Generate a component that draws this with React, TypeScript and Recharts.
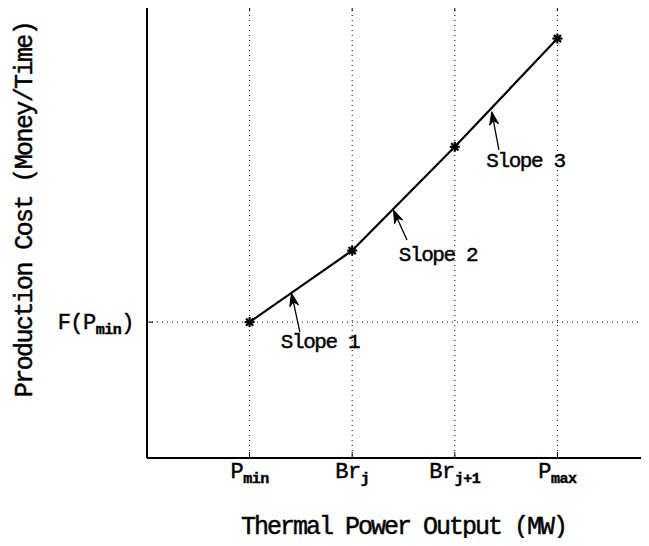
import React from "react";
import {
  LineChart,
  Line,
  XAxis,
  YAxis,
  CartesianGrid,
  ReferenceLine,
  ReferenceDot,
} from "recharts";

// break points on the output axis
const outputLevels = [1, 2, 3, 4];
const outputTickMain = ["P", "Br", "Br", "P"];
const outputTickSub = ["min", "j", "j+1", "max"];

// production cost at each break point
const costValues = [3, 4.58, 6.87, 9.26];

const costTicks = [3];

// "Slope n" annotations: arrow tail -> tip, text anchor
const slopeLabels = ["Slope 1", "Slope 2", "Slope 3"];
const arrowTailX = [1.49, 2.534, 3.43];
const arrowTailY = [2.78, 4.81, 6.8];
const arrowTipX = [1.408, 2.402, 3.36];
const arrowTipY = [3.64, 5.475, 7.645];
const labelX = [1.686, 2.836, 3.689];
const labelY = [2.54, 4.46, 6.556];

const data = outputLevels.map((x, i) => ({ x, cost: costValues[i] }));

const FONT = "'Liberation Mono', 'DejaVu Sans Mono', monospace";
const INK = { fill: "#000", stroke: "#000", strokeWidth: 0.45 };

function StarDot(props: any) {
  const { cx, cy } = props;
  if (cx == null || cy == null) return null;
  const r = 5;
  const d = 3.6;
  return (
    <g stroke="#000" strokeWidth={2.2}>
      <line x1={cx - r} y1={cy} x2={cx + r} y2={cy} />
      <line x1={cx} y1={cy - r} x2={cx} y2={cy + r} />
      <line x1={cx - d} y1={cy - d} x2={cx + d} y2={cy + d} />
      <line x1={cx - d} y1={cy + d} x2={cx + d} y2={cy - d} />
    </g>
  );
}

function OutputTick(props: any) {
  const { x, y, payload } = props;
  const i = outputLevels.indexOf(payload.value);
  if (i < 0) return null;
  return (
    <text x={x} y={y} textAnchor="middle" fontFamily={FONT} fontSize={22} letterSpacing={-0.5} {...INK}>
      <tspan>{outputTickMain[i]}</tspan>
      <tspan fontSize={15} fontWeight="bold" dy={5}>
        {outputTickSub[i]}
      </tspan>
    </text>
  );
}

function CostTick(props: any) {
  const { x, y } = props;
  return (
    <text x={x} y={y + 7} textAnchor="end" fontFamily={FONT} fontSize={22} letterSpacing={-0.5} {...INK}>
      <tspan>F(P</tspan>
      <tspan fontSize={15} fontWeight="bold" dy={5}>
        min
      </tspan>
      <tspan dy={-5}>)</tspan>
    </text>
  );
}

function EmptyTick() {
  return <g />;
}

function ArrowShape(props: any) {
  const { x1, y1, x2, y2 } = props;
  if (x1 == null) return null;
  const ang = Math.atan2(y2 - y1, x2 - x1);
  const len = 13;
  const half = 4.5;
  const bx = x2 - len * Math.cos(ang);
  const by = y2 - len * Math.sin(ang);
  const nx = x2 - (len - 4) * Math.cos(ang);
  const ny = y2 - (len - 4) * Math.sin(ang);
  const px = -Math.sin(ang) * half;
  const py = Math.cos(ang) * half;
  return (
    <g>
      <line x1={x1} y1={y1} x2={nx} y2={ny} stroke="#000" strokeWidth={1.3} />
      <polygon
        points={`${x2},${y2} ${bx + px},${by + py} ${nx},${ny} ${bx - px},${by - py}`}
        fill="#000"
        stroke="#000"
        strokeWidth={1}
      />
    </g>
  );
}

function SlopeText(text: string) {
  return function SlopeLabel(props: any) {
    const { cx, cy } = props;
    if (cx == null) return null;
    return (
      <text
        x={cx}
        y={cy}
        textAnchor="middle"
        dominantBaseline="central"
        fontFamily={FONT}
        fontSize={21}
        letterSpacing={-1.4}
        {...INK}
      >
        {text}
      </text>
    );
  };
}

function YTitle(props: any) {
  const vb = props.viewBox || {};
  const cx = 25;
  const cy = vb.y + vb.height / 2 - 22;
  return (
    <text
      x={cx}
      y={cy}
      transform={`rotate(-90 ${cx} ${cy})`}
      textAnchor="middle"
      dominantBaseline="central"
      fontFamily={FONT}
      fontSize={25}
      letterSpacing={-1.6}
      {...INK}
    >
      Production Cost (Money/Time)
    </text>
  );
}

function XTitle(props: any) {
  const vb = props.viewBox || {};
  const cx = vb.x + vb.width / 2;
  return (
    <text
      x={cx}
      y={vb.y + 76}
      textAnchor="middle"
      fontFamily={FONT}
      fontSize={25}
      letterSpacing={-2}
      {...INK}
    >
      Thermal Power Output (MW)
    </text>
  );
}

export default function App() {
  return (
    <div style={{ margin: -8, width: 649, height: 546, overflow: "hidden", background: "#fff" }}>
      <LineChart width={680} height={546} data={data} margin={{ top: 0, right: 0, bottom: 0, left: 0 }}>
        <CartesianGrid
          stroke="#000"
          strokeWidth={1}
          strokeDasharray="1 4"
          verticalValues={outputLevels}
          horizontalValues={costTicks}
        />
        <XAxis
          dataKey="x"
          type="number"
          domain={[0, 5]}
          ticks={outputLevels}
          height={88}
          axisLine={{ stroke: "#000", strokeWidth: 2 }}
          tickLine={{ stroke: "#000", strokeWidth: 1 }}
          tickSize={-6}
          tickMargin={26}
          tick={<OutputTick />}
          label={XTitle}
        />
        <XAxis
          xAxisId="top"
          orientation="top"
          dataKey="x"
          type="number"
          domain={[0, 5]}
          ticks={outputLevels}
          height={5}
          axisLine={{ stroke: "#000", strokeWidth: 2 }}
          tickLine={{ stroke: "#000", strokeWidth: 1 }}
          tickSize={-6}
          tick={<EmptyTick />}
        />
        <YAxis
          type="number"
          domain={[0, 10]}
          ticks={costTicks}
          width={147}
          axisLine={{ stroke: "#000", strokeWidth: 2 }}
          tickLine={{ stroke: "#000", strokeWidth: 1 }}
          tickSize={-6}
          tickMargin={19}
          tick={<CostTick />}
          label={YTitle}
        />
        <YAxis
          yAxisId="right"
          orientation="right"
          type="number"
          domain={[0, 10]}
          ticks={costTicks}
          width={20}
          axisLine={{ stroke: "#000", strokeWidth: 2 }}
          tickLine={{ stroke: "#000", strokeWidth: 1 }}
          tickSize={-6}
          tick={<EmptyTick />}
        />
        {slopeLabels.map((s, i) => (
          <ReferenceLine
            key={"arrow" + i}
            segment={[
              { x: arrowTailX[i], y: arrowTailY[i] },
              { x: arrowTipX[i], y: arrowTipY[i] },
            ]}
            shape={ArrowShape}
          />
        ))}
        {slopeLabels.map((s, i) => (
          <ReferenceDot key={"lab" + i} x={labelX[i]} y={labelY[i]} r={0} shape={SlopeText(s)} />
        ))}
        <Line
          type="linear"
          dataKey="cost"
          stroke="#000"
          strokeWidth={2.2}
          dot={<StarDot />}
          activeDot={false}
          isAnimationActive={false}
        />
      </LineChart>
    </div>
  );
}
